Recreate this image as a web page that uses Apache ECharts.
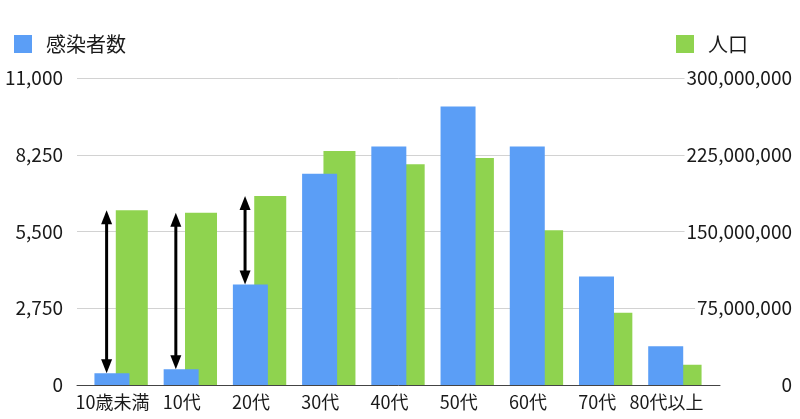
<!DOCTYPE html>
<html>
<head>
<meta charset="utf-8">
<script src="https://cdn.jsdelivr.net/npm/echarts@6/dist/echarts.min.js"></script>
<style>
  html, body { margin: 0; padding: 0; background: #fff; }
  #main { width: 800px; height: 419px; }
</style>
</head>
<body>
<div id="main"></div>
<script>
// 年代別 感染者数と人口
var categories = ['10歳未満', '10代', '20代', '30代', '40代', '50代', '60代', '70代', '80代以上'];
var infected = [420, 560, 3600, 7570, 8550, 9980, 8550, 3890, 1390];
var population = [170700000, 168400000, 184700000, 228700000, 215700000, 221800000, 151200000, 70700000, 19800000];
var leftTicks = [0, 2750, 5500, 8250, 11000];
var rightTicks = [0, 75000000, 150000000, 225000000, 300000000];
// 矢印を付ける年代（index）
var arrowCats = [0, 1, 2];

(function () {
  var myChart = echarts.init(document.getElementById('main'));
  var font = '"Noto Sans CJK JP", "Noto Sans", sans-serif';
  var leftMax = leftTicks[leftTicks.length - 1];
  var rightMax = rightTicks[rightTicks.length - 1];

  function comma(v) {
    return String(v).replace(/\B(?=(\d{3})+(?!\d))/g, ',');
  }

  // 矢印: 青の上端 → 緑の上端（左軸の単位に換算）
  var arrowData = arrowCats.map(function (i) {
    return [i, infected[i], population[i] * leftMax / rightMax];
  });

  var hiddenY = {
    type: 'value', show: false, min: 0, splitLine: { show: false }
  };

  var option = {
    textStyle: { fontFamily: font },
    animation: false,
    legend: [
      {
        data: ['感染者数'], left: 9, top: 29, icon: 'rect',
        itemWidth: 18, itemHeight: 18,
        textStyle: { fontSize: 20, color: '#1a1a1a', fontFamily: font, padding: [0, 0, 0, 9] }
      },
      {
        data: ['人口'], left: 671, top: 29, icon: 'rect',
        itemWidth: 18, itemHeight: 18,
        textStyle: { fontSize: 20, color: '#1a1a1a', fontFamily: font, padding: [0, 0, 0, 9] }
      }
    ],
    grid: [
      // 目盛り・グリッド線用
      { left: 77, right: 80, top: 78, bottom: 34 },
      // 棒グラフ用
      { left: 86.5, right: 90.5, top: 78, bottom: 34 }
    ],
    xAxis: [
      {
        type: 'category', gridIndex: 0, data: categories,
        axisLine: { lineStyle: { color: '#444', width: 1 } },
        axisTick: { show: false },
        axisLabel: { show: false }
      },
      {
        type: 'category', gridIndex: 1, data: categories,
        axisLine: { show: false },
        axisTick: { show: false },
        axisLabel: {
          interval: 0,
          color: '#1a1a1a', fontSize: 18, fontFamily: font, margin: 8,
          padding: [0, 17, 0, 0]
        }
      }
    ],
    yAxis: [
      {
        type: 'value', gridIndex: 0, position: 'left',
        min: leftTicks[0], max: leftMax, interval: leftTicks[1] - leftTicks[0],
        axisLine: { show: false }, axisTick: { show: false },
        axisLabel: {
          color: '#1a1a1a', fontSize: 19, fontFamily: font, margin: 14,
          formatter: comma
        },
        splitLine: { lineStyle: { color: '#d2d2d2', width: 1 } }
      },
      {
        type: 'value', gridIndex: 0, position: 'right',
        min: rightTicks[0], max: rightMax, interval: rightTicks[1] - rightTicks[0],
        axisLine: { show: false }, axisTick: { show: false },
        axisLabel: {
          color: '#1a1a1a', fontSize: 19, fontFamily: font,
          align: 'right', margin: 72,
          backgroundColor: '#fff', padding: [0, 0, 0, 2],
          formatter: comma
        },
        splitLine: { show: false }
      },
      Object.assign({ gridIndex: 1, max: leftMax }, hiddenY),
      Object.assign({ gridIndex: 1, max: rightMax }, hiddenY)
    ],
    series: [
      {
        name: '感染者数', type: 'bar',
        xAxisIndex: 1, yAxisIndex: 2,
        data: infected,
        barWidth: 35, barGap: '-39%',
        itemStyle: { color: '#5b9ef6' },
        z: 3
      },
      {
        name: '人口', type: 'bar',
        xAxisIndex: 1, yAxisIndex: 3,
        data: population,
        barWidth: 32, barGap: '-39%',
        itemStyle: { color: '#8fd34f' },
        z: 2
      },
      {
        type: 'custom',
        xAxisIndex: 1, yAxisIndex: 2,
        data: arrowData,
        encode: { x: 0, y: [1, 2] },
        z: 10,
        renderItem: function (params, api) {
          var lo = api.coord([api.value(0), api.value(1)]);
          var hi = api.coord([api.value(0), api.value(2)]);
          var x = lo[0] - 14.5;
          var hw = 5.5, hh = 14;
          return {
            type: 'group',
            children: [
              {
                type: 'line',
                shape: { x1: x, y1: hi[1] + hh - 1, x2: x, y2: lo[1] - hh + 1 },
                style: { stroke: '#000', lineWidth: 3 }
              },
              {
                type: 'polygon',
                shape: { points: [[x, hi[1]], [x - hw, hi[1] + hh], [x + hw, hi[1] + hh]] },
                style: { fill: '#000' }
              },
              {
                type: 'polygon',
                shape: { points: [[x, lo[1]], [x - hw, lo[1] - hh], [x + hw, lo[1] - hh]] },
                style: { fill: '#000' }
              }
            ]
          };
        }
      }
    ]
  };

  myChart.setOption(option);
  window.addEventListener('resize', function () {
    myChart.resize();
  });
})();
</script>
</body>
</html>
